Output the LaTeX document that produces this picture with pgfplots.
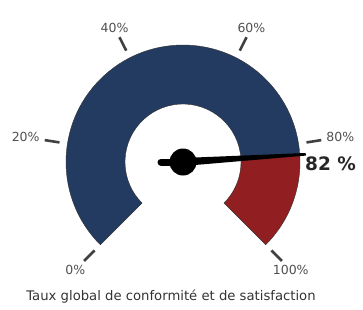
\documentclass[border=0pt]{standalone}
\usepackage{fontspec}
\setmainfont{DejaVu Sans}
\usepackage{pgfplots}
\usetikzlibrary{calc}
\pgfplotsset{compat=1.18}
\definecolor{gblue}{RGB}{35,59,97}
\definecolor{gred}{RGB}{145,30,32}
\definecolor{glab}{RGB}{80,80,80}
\def\gaugevalue{82}
\begin{document}
\begin{tikzpicture}
\begin{axis}[
  x=1pt, y=1pt,
  xmin=-183, xmax=180, ymin=-147, ymax=162,
  hide axis, clip=false, scale only axis,
]
\path (axis cs:-183,-147) rectangle (axis cs:180,162);
\coordinate (C) at (axis cs:0,0);
\coordinate (T) at (axis cs:-12,-135);
\end{axis}
\pgfmathsetmacro{\va}{225-\gaugevalue*2.7}
\begin{scope}[shift={(C)}]
  % value wedge
  \fill[gblue, draw=black!80, line width=0.4pt]
    (225:117pt) arc[start angle=225, end angle=\va, radius=117pt]
    -- (\va:58pt) arc[start angle=\va, end angle=225, radius=58pt] -- cycle;
  % remainder wedge
  \fill[gred, draw=black!80, line width=0.4pt]
    (\va:117pt) arc[start angle=\va, end angle=-45, radius=117pt]
    -- (-45:58pt) arc[start angle=-45, end angle=\va, radius=58pt] -- cycle;
  % ticks and labels
  \foreach \t in {0,20,40,60,80,100}{
    \pgfmathsetmacro{\ta}{225-\t*2.7}
    \draw[glab!80!black, line width=2.6pt] (\ta:125pt) -- (\ta:140pt);
    \pgfmathsetmacro{\tb}{\ta+180}
    \node[text=glab, font=\fontsize{12.5}{14}\selectfont, inner sep=1pt, anchor=\tb] at (\ta:144pt) {\t\%};
  }
  % needle
  \draw[black, line width=7pt, line cap=round] (0,0) -- (-22pt,0);
  \fill[black] ($(0,0)+(\va+90:4pt)$) -- ($(\va:123pt)+(\va+90:1.3pt)$) -- ($(\va:123pt)+(\va-90:1.3pt)$) -- ($(0,0)+(\va-90:4pt)$) -- cycle;
  \fill[black] (0,0) circle[radius=13.5pt];
  \node[anchor=west, font=\bfseries\fontsize{18.5}{20}\selectfont, text=black!85, inner sep=0pt] at (122pt,-2pt) {\gaugevalue\ \%};
\end{scope}
\node[text=black!80, font=\fontsize{13.2}{15}\selectfont] at (T) {Taux global de conformité et de satisfaction};
\end{tikzpicture}
\end{document}
